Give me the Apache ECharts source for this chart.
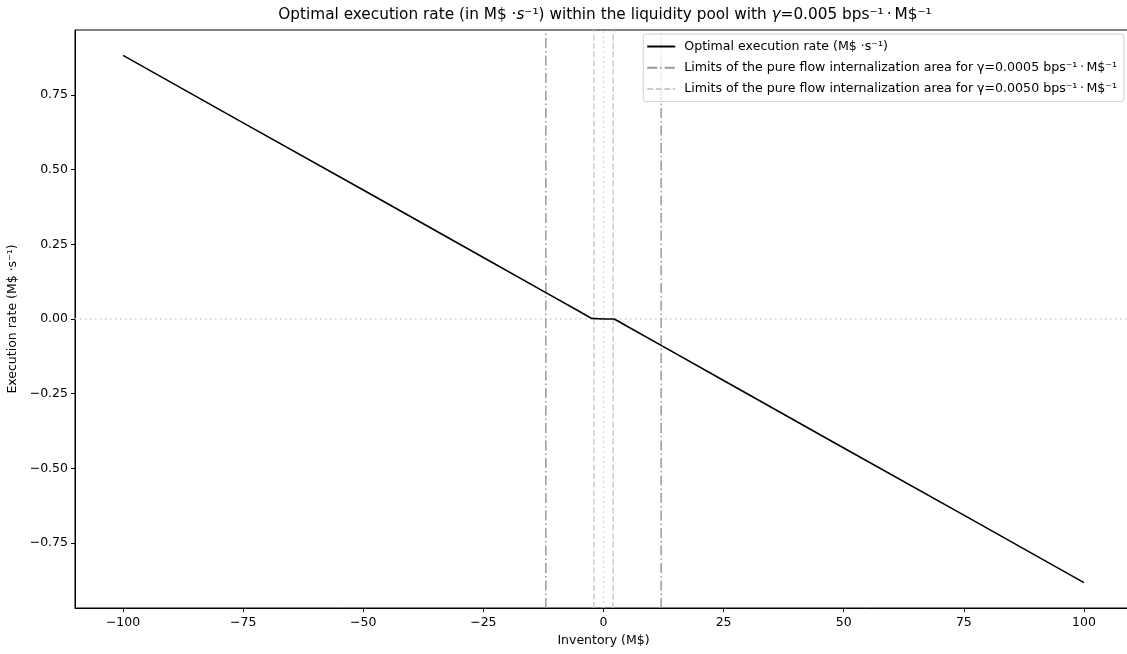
<!DOCTYPE html>
<html><head><meta charset="utf-8">
<script src="https://cdn.jsdelivr.net/npm/echarts@6/dist/echarts.min.js"></script>
<style>html,body{margin:0;padding:0;background:#fff}#c{width:1127px;height:654px}</style>
</head><body><div id="c"></div>
<script>
const inventory = [-100, -75, -50, -25, -12, -5, -3, -2.5, -2.2, 0, 2.2, 2.5, 3, 5, 12, 25, 50, 75, 100];
const rate = [0.883, 0.657, 0.432, 0.206, 0.0885, 0.0253, 0.0065, 0.002, 0, 0, 0, -0.002, -0.0065, -0.0253, -0.0885, -0.206, -0.432, -0.657, -0.883];
const limitsWide = [-12, 12];   // gamma = 0.0005
const limitsNarrow = [-2, 2];   // gamma = 0.0050
const xTicks = [-100, -75, -50, -25, 0, 25, 50, 75, 100];
const yTicks = [-0.75, -0.5, -0.25, 0, 0.25, 0.5, 0.75];
const xRange = [-110, 110];
const yRange = [-0.968, 0.968];

const FONT = 'DejaVu Sans';
const FS = 12.5;
const minus = v => (v < 0 ? '\u2212' : '') + Math.abs(v);
function vlines(xs) {
  const d = [];
  xs.forEach((x, i) => { if (i) d.push([x, null]); d.push([x, yRange[0]], [x, yRange[1]]); });
  return d;
}
const chart = echarts.init(document.getElementById('c'), null, {renderer: 'canvas'});
chart.setOption({
  animation: false,
  backgroundColor: '#fff',
  textStyle: {fontFamily: FONT},
  title: {
    left: 600, top: 3, textAlign: 'center',
    text: '{a|Optimal execution rate (in M$ \u00b7}{i|s}{a|\u207b\u00b9) within the liquidity pool with }{i|\u03b3}{a|=0.005 bps\u207b\u00b9\u2009\u00b7\u2009M$\u207b\u00b9}',
    textStyle: {
      fontWeight: 'normal',
      rich: {
        a: {fontFamily: FONT, fontSize: 15.3, color: '#000', fontWeight: 'normal'},
        i: {fontFamily: FONT, fontSize: 15.3, color: '#000', fontStyle: 'italic', fontWeight: 'normal'}
      }
    }
  },
  grid: {left: 75, top: 30, width: 1057, height: 578, outerBoundsMode: 'none', containLabel: false,
    show: true, borderColor: '#000', borderWidth: 1, backgroundColor: 'transparent'},
  legend: {
    orient: 'vertical', right: 3, top: 34,
    itemWidth: 28, itemHeight: 14, itemGap: 8.3,
    padding: [6, 7, 6, 3],
    backgroundColor: 'rgba(255,255,255,0.8)',
    borderColor: '#d0d0d0', borderWidth: 1, borderRadius: 3,
    itemStyle: {opacity: 0},
    textStyle: {fontFamily: FONT, fontSize: 12.6, color: '#000', padding: [0, 0, 0, 4]},
    data: ['opt', 'wide', 'narrow'],
    formatter: function (n) {
      if (n === 'opt') return 'Optimal execution rate (M$ \u00b7s\u207b\u00b9)';
      if (n === 'wide') return 'Limits of the pure flow internalization area for \u03b3=0.0005 bps\u207b\u00b9\u2009\u00b7\u2009M$\u207b\u00b9';
      return 'Limits of the pure flow internalization area for \u03b3=0.0050 bps\u207b\u00b9\u2009\u00b7\u2009M$\u207b\u00b9';
    }
  },
  xAxis: {
    type: 'value', min: xRange[0], max: xRange[1],
    name: 'Inventory (M$)', nameLocation: 'middle', nameGap: 25,
    nameTextStyle: {fontFamily: FONT, fontSize: FS, color: '#000'},
    axisLine: {show: true, onZero: false, lineStyle: {color: '#000', width: 1}},
    axisTick: {show: true, length: 4, lineStyle: {color: '#000'}, customValues: xTicks},
    axisLabel: {color: '#000', fontFamily: FONT, fontSize: FS, margin: 8, customValues: xTicks, formatter: v => minus(v)},
    splitLine: {show: false}
  },
  yAxis: {
    type: 'value', min: yRange[0], max: yRange[1],
    name: 'Execution rate (M$ \u00b7s\u207b\u00b9)', nameLocation: 'middle', nameGap: 54, nameRotate: 90,
    nameTextStyle: {fontFamily: FONT, fontSize: FS, color: '#000'},
    axisLine: {show: true, onZero: false, lineStyle: {color: '#000', width: 1}},
    axisTick: {show: true, length: 4, lineStyle: {color: '#000'}, customValues: yTicks},
    axisLabel: {color: '#000', fontFamily: FONT, fontSize: FS, margin: 7, customValues: yTicks,
      formatter: v => (v < 0 ? '\u2212' : '') + Math.abs(v).toFixed(2)},
    splitLine: {show: false}
  },
  series: [
    {
      name: 'ref', type: 'line', symbol: 'none', silent: true,
      data: [[0, yRange[0]], [0, yRange[1]], [0, null], [xRange[0], 0], [xRange[1], 0]],
      lineStyle: {color: '#cccccc', width: 1.3, type: [1.5, 3.5]}, z: 1
    },
    {
      name: 'wide', type: 'line', symbol: 'none', color: '#999999',
      data: vlines(limitsWide),
      lineStyle: {color: '#999999', width: 1.5, type: [10, 3, 1.5, 3]}, z: 2
    },
    {
      name: 'narrow', type: 'line', symbol: 'none', color: '#cccccc',
      data: vlines(limitsNarrow),
      lineStyle: {color: '#cccccc', width: 1.5, type: [6, 2.6]}, z: 2
    },
    {
      name: 'opt', type: 'line', symbol: 'none', color: '#000',
      data: inventory.map((x, i) => [x, rate[i]]),
      lineStyle: {color: '#000', width: 1.6}, z: 3
    }
  ]
});
</script></body></html>
